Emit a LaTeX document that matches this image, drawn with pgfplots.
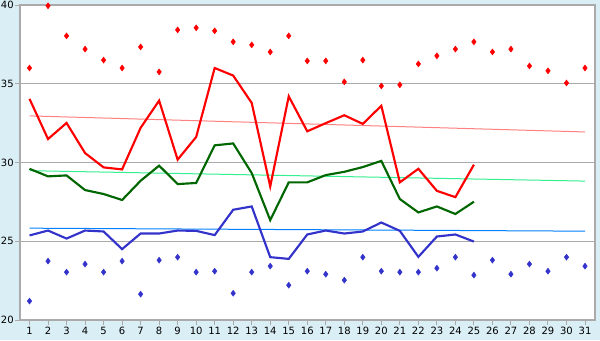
\documentclass[border=0pt]{standalone}
\usepackage{fontspec}
\setmainfont{DejaVu Sans}
\usepackage{pgfplots}
\pgfplotsset{compat=1.18}
\definecolor{bg}{HTML}{DAEEF5}
\definecolor{gridgray}{HTML}{AAAAAA}
\definecolor{cmax}{HTML}{FF0000}
\definecolor{cmean}{HTML}{006600}
\definecolor{cmin}{HTML}{3333CC}
\definecolor{tmax}{HTML}{FF8080}
\definecolor{tmean}{HTML}{33F090}
\definecolor{tmin}{HTML}{0080FF}
\begin{document}
\begin{tikzpicture}
\fill[bg] (0,0) rectangle (450pt,255pt);
\begin{axis}[
  at={(15pt,15pt)}, anchor=south west,
  scale only axis, width=431.25pt, height=236.25pt,
  xmin=0.486, xmax=31.54, ymin=20, ymax=40,
  xtick={1,...,31}, ytick={20,25,30,35,40},
  xtick pos=bottom, ytick pos=left,
  tick align=outside, major tick length=3.75pt,
  tick style={gridgray, line width=0.75pt},
  axis line style={gridgray, line width=0.9pt},
  ymajorgrids, grid style={gridgray, line width=0.9pt},
  axis background/.style={fill=white},
  tick label style={font=\fontsize{7.5}{9}\selectfont, text=black},
  yticklabel style={inner sep=0.8pt},
  xticklabel style={inner sep=1.5pt},
  /pgf/number format/assume math mode=true,
  clip=false,
]
% trend lines
\addplot[tmax, line width=0.75pt] coordinates {(1,32.96) (31,31.94)};
\addplot[tmean, line width=0.75pt] coordinates {(1,29.48) (31,28.82)};
\addplot[tmin, line width=0.75pt] coordinates {(1,25.83) (31,25.64)};
% max line
\addplot[cmax, line width=1.6pt] coordinates {
(1,34.04) (2,31.49) (3,32.51) (4,30.6) (5,29.69) (6,29.56) (7,32.2) (8,33.93) (9,30.18) (10,31.62)
(11,36.0) (12,35.52) (13,33.78) (14,28.48) (15,34.2) (16,31.98) (17,32.5) (18,33.0) (19,32.45) (20,33.6)
(21,28.74) (22,29.6) (23,28.2) (24,27.8) (25,29.86)};
% mean line
\addplot[cmean, line width=1.6pt] coordinates {
(1,29.6) (2,29.12) (3,29.18) (4,28.25) (5,28.0) (6,27.62) (7,28.84) (8,29.8) (9,28.63) (10,28.7)
(11,31.09) (12,31.21) (13,29.33) (14,26.34) (15,28.74) (16,28.74) (17,29.2) (18,29.41) (19,29.71) (20,30.1)
(21,27.68) (22,26.83) (23,27.21) (24,26.73) (25,27.51)};
% min line
\addplot[cmin, line width=1.6pt] coordinates {
(1,25.37) (2,25.68) (3,25.17) (4,25.68) (5,25.62) (6,24.5) (7,25.49) (8,25.49) (9,25.68) (10,25.66)
(11,25.39) (12,27.0) (13,27.21) (14,23.99) (15,23.88) (16,25.43) (17,25.68) (18,25.49) (19,25.62) (20,26.19)
(21,25.66) (22,24.01) (23,25.3) (24,25.43) (25,24.98)};
% extreme max marks
\addplot[only marks, mark=diamond*, mark size=2.2pt, color=cmax] coordinates {
(1,36.0) (2,39.95) (3,38.04) (4,37.2) (5,36.5) (6,36.0) (7,37.34) (8,35.75) (9,38.42) (10,38.55)
(11,38.36) (12,37.66) (13,37.47) (14,37.02) (15,38.04) (16,36.45) (17,36.45) (18,35.12) (19,36.5) (20,34.86)
(21,34.93) (22,36.26) (23,36.77) (24,37.2) (25,37.66) (26,37.02) (27,37.2) (28,36.13) (29,35.82) (30,35.05) (31,36.0)};
% extreme min marks
\addplot[only marks, mark=diamond*, mark size=2.2pt, color=cmin] coordinates {
(1,21.2) (2,23.74) (3,23.04) (4,23.55) (5,23.04) (6,23.74) (7,21.64) (8,23.8) (9,23.99) (10,23.04)
(11,23.1) (12,21.7) (13,23.04) (14,23.42) (15,22.21) (16,23.1) (17,22.91) (18,22.53) (19,23.99) (20,23.1)
(21,23.04) (22,23.04) (23,23.29) (24,23.99) (25,22.85) (26,23.8) (27,22.91) (28,23.55) (29,23.1) (30,23.99) (31,23.42)};
\end{axis}
\pgfresetboundingbox
\path (0,0) rectangle (450pt,255pt);
\end{tikzpicture}
\end{document}
